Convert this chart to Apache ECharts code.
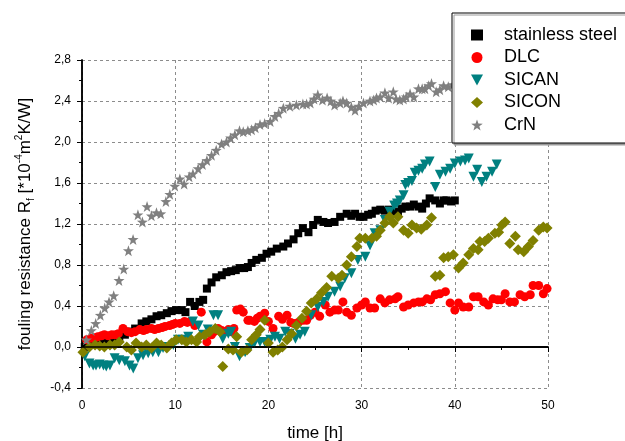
<!DOCTYPE html>
<html>
<head>
<meta charset="utf-8">
<script src="https://cdn.jsdelivr.net/npm/echarts@6/dist/echarts.min.js"></script>
<style>
	html, body { margin: 0; padding: 0; background: #fff; }
	#chart { width: 625px; height: 441px; }
</style>
</head>
<body>
<div id="chart"></div>
<script>
// time [h] / fouling resistance values
var steelT = [0.3, 0.8, 1.3, 1.8, 2.4, 3.0, 3.5, 4.0, 4.6, 5.1, 5.7, 6.4, 6.9, 7.45, 8.0, 8.5, 9.1, 9.6, 10.1, 10.7, 11.1, 11.6, 12.1, 12.6, 13.0, 13.4, 13.9, 14.4, 15.0, 15.5, 16.0, 16.5, 16.9, 17.4, 17.8, 18.2, 18.7, 19.3, 19.8, 20.3, 20.9, 21.6, 22.1, 22.7, 23.2, 23.7, 24.3, 24.8, 25.3, 25.9, 26.4, 27.1, 27.7, 28.4, 28.9, 29.3, 29.8, 30.2, 30.7, 31.1, 31.5, 32.0, 32.5, 32.9, 33.4, 33.9, 34.3, 34.7, 35.2, 35.6, 36.1, 36.5, 36.9, 37.3, 37.9, 38.4, 38.8, 39.1, 39.6, 40.0];
var steelR = [0.0, 0.03, 0.04, 0.05, 0.06, 0.05, 0.07, 0.09, 0.12, 0.15, 0.18, 0.23, 0.25, 0.27, 0.30, 0.31, 0.33, 0.35, 0.36, 0.36, 0.34, 0.44, 0.40, 0.44, 0.46, 0.57, 0.63, 0.68, 0.70, 0.73, 0.74, 0.75, 0.77, 0.77, 0.78, 0.82, 0.85, 0.87, 0.91, 0.93, 0.96, 0.98, 1.01, 1.05, 1.11, 1.16, 1.12, 1.19, 1.24, 1.22, 1.21, 1.22, 1.27, 1.30, 1.28, 1.30, 1.27, 1.27, 1.29, 1.30, 1.33, 1.34, 1.33, 1.34, 1.32, 1.32, 1.35, 1.37, 1.37, 1.39, 1.37, 1.35, 1.40, 1.45, 1.43, 1.40, 1.43, 1.43, 1.42, 1.43];

var dlcT = [0.5, 1.0, 1.4, 1.7, 2.1, 2.4, 2.8, 3.2, 3.6, 3.9, 4.4, 4.9, 5.3, 5.7, 6.2, 6.6, 6.9, 7.45, 7.8, 8.2, 8.6, 8.9, 9.4, 9.7, 10.0, 10.5, 11.0, 11.3, 11.6, 12.1, 12.8, 13.4, 13.9, 14.2, 14.6, 15.0, 15.3, 15.7, 16.0, 16.3, 16.6, 17.0, 17.3, 17.8, 18.0, 18.5, 18.8, 19.1, 19.6, 20.0, 20.5, 21.1, 21.5, 22.0, 22.4, 22.7, 23.2, 23.7, 24.1, 24.5, 25.0, 25.5, 26.1, 26.6, 27.1, 27.5, 28.0, 28.4, 28.9, 29.5, 30.0, 30.4, 30.9, 31.4, 32.0, 32.5, 33.0, 33.6, 33.9, 34.5, 35.0, 35.6, 36.1, 36.5, 37.0, 37.4, 37.9, 38.4, 39.0, 39.5, 40.0, 40.4, 40.9, 41.5, 42.0, 42.5, 43.1, 43.6, 44.1, 44.6, 45.0, 45.4, 45.9, 46.4, 47.0, 47.5, 48.1, 48.4, 49.0, 49.5, 49.9];
var dlcR = [0.07, 0.085, 0.09, 0.10, 0.11, 0.12, 0.11, 0.12, 0.12, 0.13, 0.18, 0.15, 0.14, 0.15, 0.17, 0.16, 0.17, 0.18, 0.17, 0.18, 0.19, 0.20, 0.21, 0.22, 0.23, 0.23, 0.25, 0.24, 0.25, 0.21, 0.34, 0.05, 0.12, 0.15, 0.18, 0.16, 0.15, 0.17, 0.15, 0.18, 0.36, 0.37, 0.34, 0.26, 0.26, 0.25, 0.28, 0.30, 0.33, 0.25, 0.18, 0.30, 0.27, 0.31, 0.24, 0.23, 0.24, 0.26, 0.26, 0.31, 0.34, 0.30, 0.41, 0.34, 0.36, 0.36, 0.44, 0.34, 0.31, 0.38, 0.41, 0.44, 0.38, 0.38, 0.47, 0.43, 0.46, 0.47, 0.49, 0.39, 0.41, 0.43, 0.44, 0.44, 0.47, 0.46, 0.51, 0.52, 0.54, 0.43, 0.36, 0.43, 0.39, 0.39, 0.49, 0.49, 0.44, 0.41, 0.47, 0.46, 0.46, 0.52, 0.44, 0.44, 0.51, 0.49, 0.51, 0.60, 0.60, 0.52, 0.57];

var sicanT = [0.3, 0.8, 1.2, 1.5, 1.9, 2.3, 2.6, 3.0, 3.5, 4.0, 4.6, 5.1, 5.5, 6.0, 6.55, 7.1, 7.6, 8.2, 8.7, 9.2, 9.8, 10.3, 10.8, 11.4, 11.9, 12.5, 13.0, 13.5, 14.1, 14.6, 15.1, 15.7, 16.0, 16.4, 16.9, 17.5, 18.0, 18.5, 19.1, 19.6, 20.2, 20.7, 21.2, 21.8, 22.3, 22.9, 23.4, 23.9, 24.6, 25.3, 25.9, 26.4, 27.1, 27.7, 28.2, 28.9, 29.6, 30.4, 30.9, 31.4, 32.0, 32.5, 33.0, 33.5, 33.8, 34.1, 34.5, 34.7, 35.0, 35.4, 35.7, 36.1, 36.5, 36.8, 37.3, 37.9, 38.4, 39.0, 39.5, 40.0, 40.6, 41.1, 41.5, 42.0, 42.4, 42.9, 43.4, 44.0, 44.5];
var sicanR = [-0.09, -0.16, -0.18, -0.18, -0.17, -0.18, -0.19, -0.18, -0.11, -0.13, -0.14, -0.18, -0.21, -0.11, -0.08, -0.06, -0.05, -0.05, -0.01, 0.0, 0.02, 0.07, 0.07, 0.10, 0.25, 0.21, 0.12, 0.17, 0.31, 0.31, 0.08, 0.13, 0.15, 0.0, -0.09, -0.05, -0.01, 0.04, 0.05, 0.05, 0.07, 0.10, 0.08, 0.15, 0.13, 0.08, 0.12, 0.15, 0.31, 0.39, 0.44, 0.49, 0.54, 0.59, 0.67, 0.72, 0.85, 0.88, 0.99, 1.11, 1.14, 1.24, 1.32, 1.38, 1.40, 1.43, 1.48, 1.58, 1.60, 1.62, 1.70, 1.72, 1.74, 1.78, 1.81, 1.56, 1.68, 1.71, 1.74, 1.79, 1.81, 1.82, 1.84, 1.66, 1.73, 1.61, 1.66, 1.71, 1.78];

var siconT = [0.1, 0.8, 1.4, 1.9, 2.4, 3.0, 3.5, 4.0, 4.8, 5.3, 5.8, 6.4, 6.9, 7.45, 8.0, 8.5, 9.1, 9.6, 10.1, 10.7, 11.2, 11.75, 12.3, 12.6, 13.2, 13.7, 14.3, 14.8, 15.1, 15.7, 16.2, 16.6, 17.1, 17.7, 18.2, 18.7, 19.1, 19.6, 20.0, 20.5, 21.0, 21.5, 22.0, 22.5, 23.0, 23.6, 24.1, 24.6, 25.2, 25.7, 26.25, 26.8, 27.5, 27.9, 28.4, 28.9, 29.5, 29.8, 30.4, 31.1, 31.6, 32.0, 32.5, 33.0, 33.4, 33.9, 34.5, 35.0, 35.4, 35.9, 36.4, 37.0, 37.5, 37.9, 38.4, 38.8, 39.3, 39.85, 40.4, 40.9, 41.5, 42.0, 42.5, 42.7, 43.2, 43.6, 44.3, 44.7, 45.05, 45.4, 45.9, 46.5, 46.8, 47.4, 47.9, 48.4, 49.0, 49.5, 49.9];
var siconR = [-0.05, 0.0, 0.02, 0.01, 0.0, 0.02, 0.02, 0.05, 0.0, -0.03, 0.04, 0.0, 0.02, -0.01, 0.04, 0.02, -0.01, 0.04, 0.07, 0.07, 0.05, 0.07, 0.05, 0.10, 0.12, 0.15, 0.18, 0.15, -0.19, -0.02, -0.03, 0.10, -0.05, -0.03, 0.07, 0.12, 0.17, 0.26, 0.04, -0.05, -0.03, 0.0, 0.07, 0.13, 0.21, 0.28, 0.35, 0.43, 0.47, 0.53, 0.58, 0.69, 0.67, 0.70, 0.80, 0.88, 0.98, 1.06, 1.06, 1.06, 1.08, 1.14, 1.21, 1.27, 1.21, 1.27, 1.14, 1.11, 1.19, 1.16, 1.15, 1.19, 1.26, 0.69, 0.70, 0.87, 0.88, 0.90, 0.77, 0.82, 0.90, 0.96, 0.95, 1.03, 1.03, 1.06, 1.11, 1.12, 1.19, 1.22, 1.01, 1.08, 0.95, 0.93, 0.98, 1.04, 1.14, 1.17, 1.16];

var crnT = [0.47, 1.0, 1.47, 1.97, 2.44, 2.9, 3.4, 3.97, 4.48, 4.98, 5.48, 6.0, 6.48, 6.98, 7.45, 7.99, 8.45, 9.0, 9.42, 9.96, 10.5, 10.96, 11.5, 11.9, 12.46, 12.93, 13.4, 13.9, 14.4, 14.97, 15.5, 15.94, 16.4, 16.9, 17.3, 17.8, 18.2, 18.6, 19.1, 19.6, 20.2, 20.7, 21.1, 21.6, 22.3, 23.0, 23.7, 24.1, 24.5, 24.9, 25.3, 25.8, 26.3, 26.7, 27.1, 27.7, 28.0, 28.4, 28.9, 29.3, 29.7, 30.2, 30.9, 31.3, 31.6, 32.0, 32.5, 32.9, 33.4, 33.7, 34.1, 34.5, 34.8, 35.2, 35.6, 36.1, 36.5, 36.8, 37.2, 37.5, 38.0, 38.4, 38.8, 39.3, 39.8, 40.3];
var crnR = [0.07, 0.16, 0.23, 0.31, 0.38, 0.44, 0.50, 0.65, 0.76, 0.94, 1.05, 1.29, 1.22, 1.37, 1.28, 1.31, 1.30, 1.42, 1.49, 1.57, 1.64, 1.59, 1.66, 1.69, 1.74, 1.78, 1.82, 1.87, 1.92, 1.98, 2.0, 2.04, 2.07, 2.11, 2.10, 2.11, 2.12, 2.14, 2.17, 2.18, 2.20, 2.25, 2.28, 2.33, 2.35, 2.36, 2.37, 2.37, 2.38, 2.42, 2.46, 2.41, 2.43, 2.40, 2.36, 2.38, 2.40, 2.38, 2.34, 2.31, 2.35, 2.38, 2.40, 2.41, 2.43, 2.44, 2.48, 2.43, 2.49, 2.42, 2.41, 2.42, 2.44, 2.47, 2.44, 2.52, 2.52, 2.52, 2.55, 2.57, 2.49, 2.51, 2.55, 2.54, 2.56, 2.58];

var legendNames = ['stainless steel', 'DLC', 'SICAN', 'SICON', 'CrN'];

var starPath = 'path://M0,-10L2.35,-3.24L9.51,-3.09L3.8,1.24L5.88,8.09L0,4L-5.88,8.09L-3.8,1.24L-9.51,-3.09L-2.35,-3.24Z';
var downTriPath = 'path://M0,0L10,0L5,9Z';

function zip(t, r) {
	return t.map(function(v, i) {
		return [v, r[i]];
	});
}

var chart = echarts.init(document.getElementById('chart'), null, { renderer: 'canvas' });

var fontFam = 'Liberation Sans, Arial, sans-serif';
var dashGrid = { show: true, lineStyle: { color: '#8c8c8c', type: [3, 3], width: 1 } };

var option = {
	animation: false,
	backgroundColor: '#fff',
	textStyle: { fontFamily: fontFam, color: '#000' },
	grid: { left: 82, right: 77, top: 60, bottom: 53, containLabel: false, outerBoundsMode: 'none' },
	legend: {
		left: 452,
		top: 13,
		orient: 'vertical',
		backgroundColor: '#fff',
		borderColor: '#000',
		borderWidth: 1,
		shadowColor: '#9a9a9a',
		shadowOffsetX: 2,
		shadowOffsetY: 2,
		padding: [13, 30, 9, 19],
		itemWidth: 12,
		itemHeight: 11,
		itemGap: 4.5,
		symbolKeepAspect: true,
		textStyle: { fontSize: 18, lineHeight: 17, color: '#000', fontFamily: fontFam, padding: [0, 0, 0, 16] },
		data: [
			legendNames[0],
			legendNames[1],
			{ name: legendNames[2], icon: downTriPath },
			legendNames[3],
			legendNames[4]
		]
	},
	xAxis: [{
		type: 'value',
		position: 'bottom',
		min: 0,
		max: 50,
		interval: 10,
		name: 'time [h]',
		nameLocation: 'middle',
		nameGap: 37,
		nameTextStyle: { fontSize: 17, color: '#000' },
		axisLine: { show: true, lineStyle: { color: '#000', width: 1.5 } },
		axisTick: { show: true, length: 5, lineStyle: { color: '#000' } },
		minorTick: { show: true, splitNumber: 2, length: 3, lineStyle: { color: '#000' } },
		axisLabel: { fontSize: 12, color: '#000', margin: 12 },
		splitLine: dashGrid
	}, {
		type: 'value',
		position: 'top',
		min: 0,
		max: 50,
		interval: 10,
		axisLine: { show: true, lineStyle: { color: '#000', width: 1.5 } },
		axisTick: { show: true, inside: true, length: 5, lineStyle: { color: '#000' } },
		minorTick: { show: true, splitNumber: 2, length: 3, lineStyle: { color: '#000' } },
		axisLabel: { show: false },
		splitLine: { show: false }
	}],
	yAxis: [{
		type: 'value',
		position: 'left',
		min: -0.4,
		max: 2.8,
		interval: 0.4,
		name: '{n|fouling resistance R}{sub|f}{n| [*10}{sup|-4}{n|m}{sup|2}{n|K/W]}',
		nameLocation: 'middle',
		nameGap: 46,
		nameTextStyle: {
			color: '#000',
			rich: {
				n: { fontSize: 17, lineHeight: 22, color: '#000', fontFamily: fontFam },
				sub: { fontSize: 10, lineHeight: 10, verticalAlign: 'bottom', color: '#000', fontFamily: fontFam },
				sup: { fontSize: 10, lineHeight: 10, verticalAlign: 'top', color: '#000', fontFamily: fontFam }
			}
		},
		axisLine: { show: true, lineStyle: { color: '#000', width: 1.5 } },
		axisTick: { show: true, length: 5, lineStyle: { color: '#000' } },
		minorTick: { show: true, splitNumber: 2, length: 3, lineStyle: { color: '#000' } },
		axisLabel: {
			fontSize: 12,
			color: '#000',
			margin: 11,
			formatter: function(v) {
				return v.toFixed(1).replace('.', ',');
			}
		},
		splitLine: dashGrid
	}, {
		type: 'value',
		position: 'right',
		min: -0.4,
		max: 2.8,
		interval: 0.4,
		axisLine: { show: true, lineStyle: { color: '#000', width: 1.5 } },
		axisTick: { show: true, inside: true, length: 5, lineStyle: { color: '#000' } },
		minorTick: { show: true, splitNumber: 2, length: 3, lineStyle: { color: '#000' } },
		axisLabel: { show: false },
		splitLine: { show: false }
	}],
	series: [{
		name: legendNames[0],
		type: 'scatter',
		symbol: 'rect',
		symbolSize: 8,
		itemStyle: { color: '#000000', opacity: 1 },
		data: zip(steelT, steelR),
		markLine: {
			silent: true,
			symbol: 'none',
			label: { show: false },
			lineStyle: { color: '#000', type: 'solid', width: 1.5 },
			data: [{ yAxis: 0 }]
		}
	}, {
		name: legendNames[1],
		type: 'scatter',
		symbol: 'circle',
		symbolSize: 9,
		itemStyle: { color: '#ff0000', opacity: 1 },
		data: zip(dlcT, dlcR)
	}, {
		name: legendNames[2],
		type: 'scatter',
		symbol: 'triangle',
		symbolRotate: 180,
		symbolSize: 10,
		itemStyle: { color: '#008080', opacity: 1 },
		data: zip(sicanT, sicanR)
	}, {
		name: legendNames[3],
		type: 'scatter',
		symbol: 'diamond',
		symbolSize: 11,
		itemStyle: { color: '#808000', opacity: 1 },
		data: zip(siconT, siconR)
	}, {
		name: legendNames[4],
		type: 'scatter',
		symbol: starPath,
		symbolSize: 11,
		itemStyle: { color: '#808080', opacity: 1 },
		data: zip(crnT, crnR)
	}]
};

chart.setOption(option);
</script>
</body>
</html>
